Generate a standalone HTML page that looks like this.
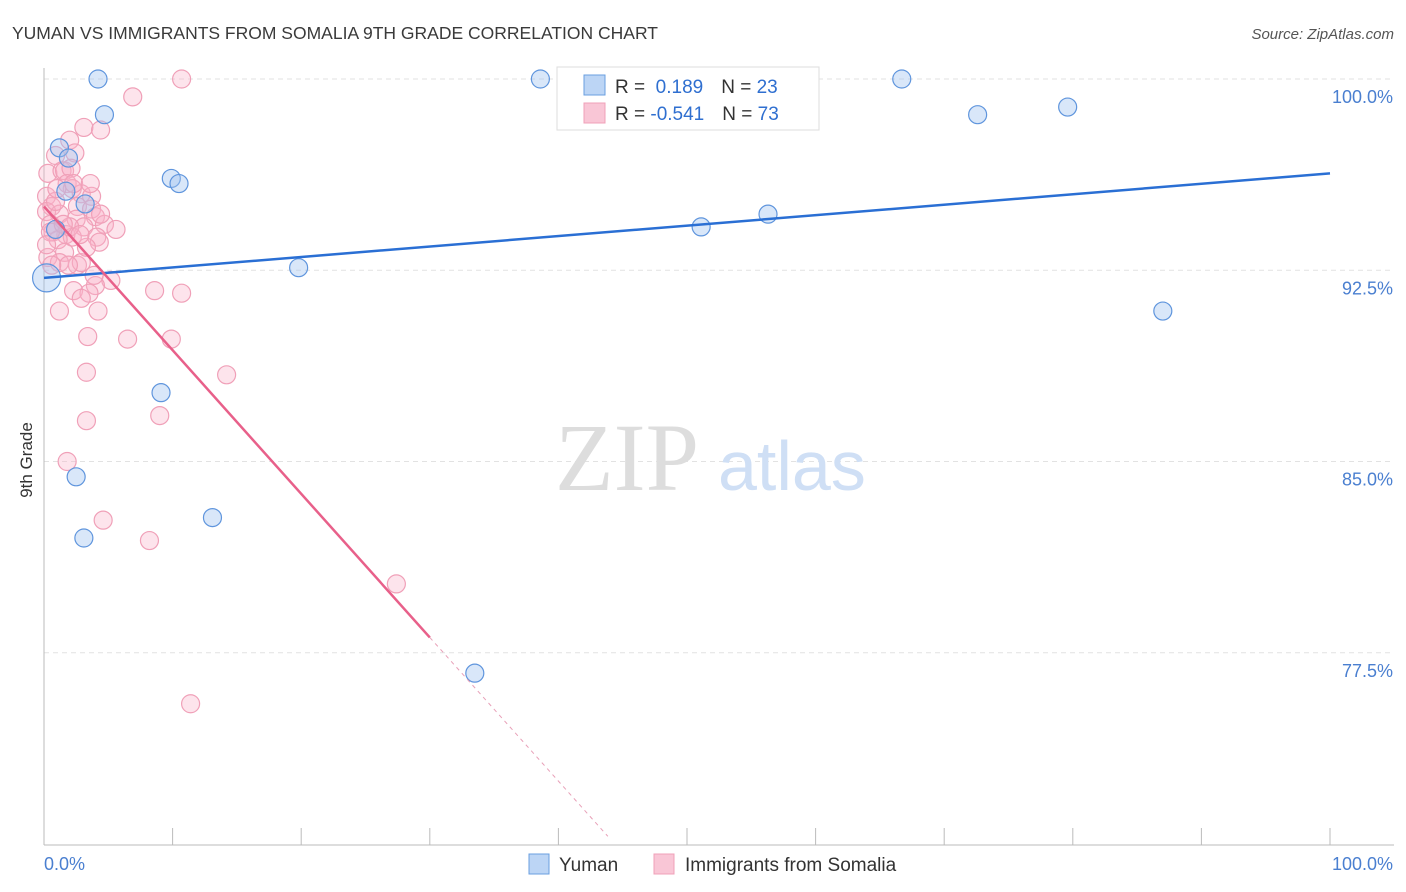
<!DOCTYPE html>
<html><head><meta charset="utf-8"><style>
body{margin:0;background:#fff;font-family:"Liberation Sans",sans-serif}
svg{display:block}
</style></head><body>
<svg id="chart" width="1406" height="892" xmlns="http://www.w3.org/2000/svg">
<text x="12" y="39" font-size="17.5" fill="#3a3a3a">YUMAN VS IMMIGRANTS FROM SOMALIA 9TH GRADE CORRELATION CHART</text>
<text x="1394" y="39" font-size="15" fill="#555" text-anchor="end" font-style="italic">Source: ZipAtlas.com</text>
<g id="grid"></g>
<text x="555" y="490" font-size="96" fill="#ddd" font-family="Liberation Serif,serif">ZIP</text>
<text x="718" y="490" font-size="70" fill="#cfdff5">atlas</text>
<g id="axes"></g>
<g id="pts"></g>
<g id="lines"></g>
<text x="32" y="460" font-size="17" fill="#333" text-anchor="middle" transform="rotate(-90 32 460)">9th Grade</text>
<g>
<rect x="557" y="67" width="262" height="63" fill="#fff" stroke="#ddd"/>
<rect x="584" y="75" width="21" height="20" fill="#bcd5f5" stroke="#6a9fe0"/>
<rect x="584" y="103" width="21" height="20" fill="#f9c6d6" stroke="#f0a0b8"/>
<text x="615" y="93" font-size="19" fill="#333">R = <tspan fill="#2f6fd0">&#160;0.189</tspan><tspan dx="18">N = </tspan><tspan fill="#2f6fd0">23</tspan></text>
<text x="615" y="120" font-size="19" fill="#333">R = <tspan fill="#2f6fd0">-0.541</tspan><tspan dx="18">N = </tspan><tspan fill="#2f6fd0">73</tspan></text>
</g>
<g>
<rect x="529" y="854" width="20" height="20" fill="#bcd5f5" stroke="#6a9fe0"/>
<text x="559" y="871" font-size="19" fill="#333">Yuman</text>
<rect x="654" y="854" width="20" height="20" fill="#f9c6d6" stroke="#f0a0b8"/>
<text x="685" y="871" font-size="19" fill="#333">Immigrants from Somalia</text>
</g>
</svg>
<script>
const yTicks=[100,92.5,85,77.5];
const yTickLabels=["100.0%","92.5%","85.0%","77.5%"];
const xTickLabels=["0.0%","100.0%"];
const yumanX=[4.2,38.6,66.7,4.7,72.6,79.6,1.2,1.9,9.9,10.5,1.7,3.2,56.3,51.1,0.9,19.8,0.2,87.0,9.1,2.5,13.1,3.1,33.5];
const yumanY=[100,100,100,98.6,98.6,98.9,97.3,96.9,96.1,95.9,95.6,95.1,94.7,94.2,94.1,92.6,92.2,90.9,87.7,84.4,82.8,82.0,76.7];
const somX=[10.7,6.9,3.1,4.4,2.0,2.4,0.9,0.3,1.4,1.6,2.1,1.8,2.2,0.2,2.9,3.7,0.6,0.2,1.2,2.6,3.7,4.0,2.5,0.5,3.1,4.7,5.6,0.7,1.7,2.2,1.1,4.1,4.3,1.6,0.3,1.2,2.6,2.9,5.2,4.0,2.3,3.5,2.9,8.6,10.7,1.2,4.2,3.4,6.5,9.9,14.2,3.3,9.0,3.3,1.8,4.6,8.2,27.4,11.4,0.5,0.9,2.0,3.3,0.2,2.3,4.4,1.0,1.5,2.8,1.9,3.9,3.6,0.6];
const somY=[100,99.3,98.1,98.0,97.6,97.1,97.0,96.3,96.4,96.4,96.5,95.9,95.7,95.4,95.5,95.4,95.0,94.8,94.7,95.0,94.9,94.6,94.5,94.3,94.2,94.3,94.1,94.0,93.9,93.8,93.7,93.8,93.6,93.2,93.0,92.8,92.7,92.8,92.1,91.9,91.7,91.6,91.4,91.7,91.6,90.9,90.9,89.9,89.8,89.8,88.4,88.5,86.8,86.6,85.0,82.7,81.9,80.2,75.5,94.0,95.2,94.2,93.4,93.5,95.9,94.7,95.7,94.3,93.9,92.7,92.3,95.9,92.7];
const yumanFit=[92.2,96.3];
const somFit=[95.0,78.1];
const NS="http://www.w3.org/2000/svg";
const X=v=>44+v/100*1286, Y=v=>79+(100-v)*25.5;
function mk(tag,attrs,parent){const e=document.createElementNS(NS,tag);for(const k in attrs)e.setAttribute(k,attrs[k]);parent.appendChild(e);return e;}
const grid=document.getElementById('grid'),axes=document.getElementById('axes'),pts=document.getElementById('pts'),lines=document.getElementById('lines');
yTicks.forEach((t,i)=>{
 const l=mk('line',{x1:44,x2:1394,y1:Y(t),y2:Y(t),stroke:'#e2e2e2','stroke-dasharray':'5,4'},grid);
 
 
 const tx=mk('text',{x:1393,y:Y(t)+24,'font-size':18,fill:'#4a7fd0','text-anchor':'end'},axes);
 tx.textContent=yTickLabels[i];
 
 
});
mk('line',{x1:44,x2:44,y1:68,y2:845,stroke:'#bbb'},axes);
mk('line',{x1:44,x2:1394,y1:845,y2:845,stroke:'#bbb'},axes);
for(let i=0;i<=10;i++){mk('line',{x1:X(i*10),x2:X(i*10),y1:828,y2:845,stroke:'#bbb'},axes);}
const xl0=mk('text',{x:44,y:870,'font-size':18,fill:'#4a7fd0'},axes);xl0.textContent=xTickLabels[0];


const xl1=mk('text',{x:1393,y:870,'font-size':18,fill:'#4a7fd0','text-anchor':'end'},axes);xl1.textContent=xTickLabels[1];


somX.forEach((x,i)=>{
 const c=mk('circle',{cx:X(x),cy:Y(somY[i]),r:9,fill:'rgba(248,178,200,0.35)',stroke:'#f0a0b8','stroke-width':1.2},pts);
 
 
});
yumanX.forEach((x,i)=>{
 const c=mk('circle',{cx:X(x),cy:Y(yumanY[i]),r:i==16?14:9,fill:'rgba(160,196,240,0.4)',stroke:'#5f95dd','stroke-width':1.2},pts);
 
 
});
const bl=mk('line',{x1:X(0),y1:Y(yumanFit[0]),x2:X(100),y2:Y(yumanFit[1]),stroke:'#2a6fd4','stroke-width':2.5},lines);


const slope=(somFit[1]-somFit[0])/30;
const pl=mk('line',{x1:X(0),y1:Y(somFit[0]),x2:X(30),y2:Y(somFit[1]),stroke:'#e8608a','stroke-width':2.5},lines);


const xe=30+(70.3-somFit[1])/slope;
const pd=mk('line',{x1:X(30),y1:Y(somFit[1]),x2:X(xe),y2:Y(70.3),stroke:'#e8a0b8','stroke-width':1,'stroke-dasharray':'4,4'},lines);


</script>
</body></html>
